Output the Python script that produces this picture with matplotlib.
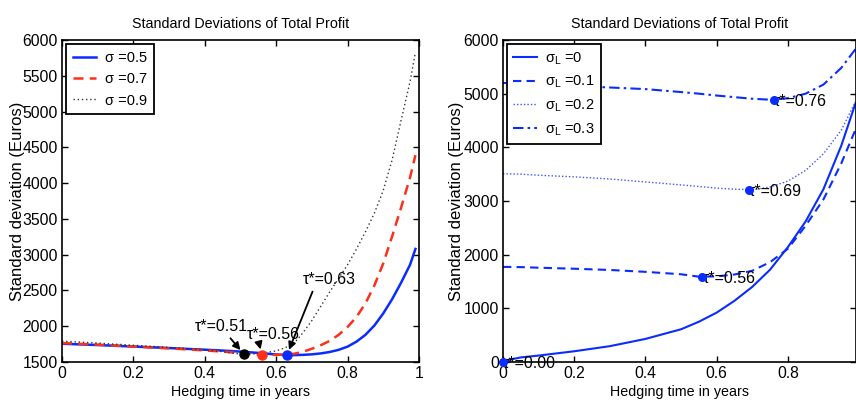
import matplotlib
matplotlib.use('Agg')
import matplotlib.pyplot as plt
from matplotlib.ticker import FuncFormatter, MultipleLocator

plt.rcParams['font.family'] = ['Liberation Sans', 'DejaVu Sans']
plt.rcParams['mathtext.fontset'] = 'custom'
plt.rcParams['mathtext.rm'] = 'Liberation Sans'
plt.rcParams['mathtext.it'] = 'Liberation Sans:italic'

BLUE = '#0a2cff'
RED = '#ff3019'

# left panel: different sigma
t_left = [0, 0.1, 0.2, 0.3, 0.4, 0.45, 0.5, 0.55, 0.6, 0.625, 0.65, 0.675, 0.7, 0.725, 0.75,
          0.775, 0.8, 0.825, 0.85, 0.875, 0.9, 0.925, 0.95, 0.975, 0.99]
sd_05 = [1755, 1737, 1716, 1695, 1672, 1660, 1645, 1627, 1605, 1597, 1596, 1600, 1607, 1620, 1640,
         1670, 1715, 1785, 1880, 2010, 2180, 2380, 2610, 2860, 3080]
sd_07 = [1765, 1742, 1716, 1690, 1662, 1645, 1625, 1602, 1600, 1603, 1615, 1643, 1685, 1735, 1795,
         1880, 1990, 2130, 2320, 2570, 2880, 3260, 3660, 4080, 4390]
sd_09 = [1792, 1764, 1734, 1703, 1668, 1645, 1610, 1615, 1655, 1700, 1760, 1910, 2080, 2280, 2480,
         2670, 2860, 3080, 3320, 3580, 3900, 4330, 4880, 5420, 5830]
tau_left = [0.51, 0.56, 0.63]
tau_left_sd = [1607, 1600, 1598]

# right panel: different sigma_L
t_right = [0, 0.02, 0.05, 0.1, 0.2, 0.3, 0.4, 0.5, 0.55, 0.6, 0.65, 0.7, 0.75, 0.8, 0.85, 0.9, 0.95, 0.99]
sdL_0 = [0, 45, 85, 120, 200, 295, 430, 610, 750, 920, 1140, 1400, 1720, 2140, 2620, 3220, 4030, 4820]
sdL_1 = [1772, 1771, 1768, 1757, 1738, 1715, 1680, 1635, 1590, 1595, 1630, 1700, 1860, 2110, 2540, 3030, 3700, 4330]
sdL_2 = [3508, 3505, 3500, 3480, 3450, 3410, 3355, 3300, 3270, 3240, 3220, 3212, 3260, 3370, 3570, 3880, 4320, 4850]
sdL_3 = [5200, 5197, 5190, 5175, 5145, 5115, 5085, 5030, 5000, 4965, 4935, 4905, 4888, 4915, 5000, 5170, 5480, 5830]
tau_right = [0.00, 0.56, 0.69, 0.76]
tau_right_sd = [0, 1586, 3210, 4889]

FS = 10.5     # legend
TICK = 11.3
NOTE = 11.5

fig = plt.figure(figsize=(8.56, 4.01), dpi=100)
ax1 = fig.add_axes([62 / 856, 39 / 401, 357 / 856, 322 / 401])
ax2 = fig.add_axes([503 / 856, 39 / 401, 352.5 / 856, 322 / 401])


def style(ax):
    ax.tick_params(direction='in', length=4, width=1, top=True, right=True,
                   labelsize=TICK, pad=3)
    for s in ax.spines.values():
        s.set_linewidth(1.2)
    ax.xaxis.set_major_formatter(FuncFormatter(lambda v, p: '%g' % round(v, 2)))
    ax.set_title('Standard Deviations of Total Profit', fontsize=10.3, pad=9)
    ax.set_xlabel('Hedging time in years', fontsize=10.3)
    ax.set_ylabel('Standard deviation (Euros)', fontsize=12)
    ax.xaxis.set_label_coords(0.5, -0.07)


# ---- left
ax1.plot(t_left, sd_05, color=BLUE, lw=1.8, label='σ =0.5')
ax1.plot(t_left, sd_07, color=RED, lw=1.8, ls=(0, (4, 2.5)), label='σ =0.7')
ax1.plot(t_left, sd_09, color='#333333', lw=1.0, ls=(0, (1, 2)), label='σ =0.9')
for tt, ss, c in zip(tau_left, tau_left_sd, ['k', RED, BLUE]):
    ax1.plot(tt, ss, 'o', color=c, ms=6.5, zorder=5)
ax1.set_xlim(0, 1)
ax1.set_ylim(1500, 6000)
ax1.xaxis.set_major_locator(MultipleLocator(0.2))
ax1.yaxis.set_major_locator(MultipleLocator(500))
style(ax1)
ax1.yaxis.set_label_coords(-0.104, 0.5)

arr = dict(arrowstyle='-|>', color='k', lw=1.3, mutation_scale=11, shrinkA=1, shrinkB=4)
ax1.annotate('τ*=0.51', xy=(tau_left[0], tau_left_sd[0]), xytext=(0.445, 1990),
             ha='center', va='center', fontsize=NOTE, arrowprops=arr)
ax1.annotate('τ*=0.56', xy=(tau_left[1], tau_left_sd[1]), xytext=(0.592, 1891),
             ha='center', va='center', fontsize=NOTE,
             arrowprops=dict(arr, relpos=(0.22, 0)))
ax1.annotate('τ*=0.63', xy=(tau_left[2], tau_left_sd[2]), xytext=(0.748, 2646),
             ha='center', va='center', fontsize=NOTE,
             arrowprops=dict(arr, relpos=(0.22, 0)))

leg = ax1.legend(loc='upper left', fontsize=FS, borderaxespad=0.3, handlelength=1.6,
                 handletextpad=0.6, labelspacing=0.5, borderpad=0.45,
                 fancybox=False, edgecolor='k', framealpha=1)
leg.get_frame().set_linewidth(1.3)

# ---- right
ax2.plot(t_right, sdL_0, color=BLUE, lw=1.5, label=r'σ$_{\mathrm{L}}$ =0')
ax2.plot(t_right, sdL_1, color=BLUE, lw=1.5, ls=(0, (4, 2.5)), label=r'σ$_{\mathrm{L}}$ =0.1')
ax2.plot(t_right, sdL_2, color=BLUE, lw=1.0, ls=(0, (1, 1.5)), alpha=0.8,
         label=r'σ$_{\mathrm{L}}$ =0.2')
ax2.plot(t_right, sdL_3, color=BLUE, lw=1.5, ls=(0, (5, 2, 1.2, 2)), label=r'σ$_{\mathrm{L}}$ =0.3')
for tt, ss in zip(tau_right, tau_right_sd):
    ax2.plot(tt, ss, 'o', color=BLUE, ms=5.5, zorder=5, clip_on=False)
    ax2.text(tt, ss, 'τ*=%.2f' % tt, ha='left', va='center_baseline', fontsize=NOTE)
ax2.set_xlim(0, 0.99)
ax2.set_ylim(0, 6000)
ax2.xaxis.set_major_locator(MultipleLocator(0.2))
ax2.yaxis.set_major_locator(MultipleLocator(1000))
style(ax2)
ax2.yaxis.set_label_coords(-0.111, 0.5)

leg2 = ax2.legend(loc='upper left', fontsize=FS, borderaxespad=0.3, handlelength=1.6,
                  handletextpad=0.6, labelspacing=0.5, borderpad=0.4,
                  fancybox=False, edgecolor='k', framealpha=1)
leg2.get_frame().set_linewidth(1.3)

fig.savefig('out.png', dpi=100)
